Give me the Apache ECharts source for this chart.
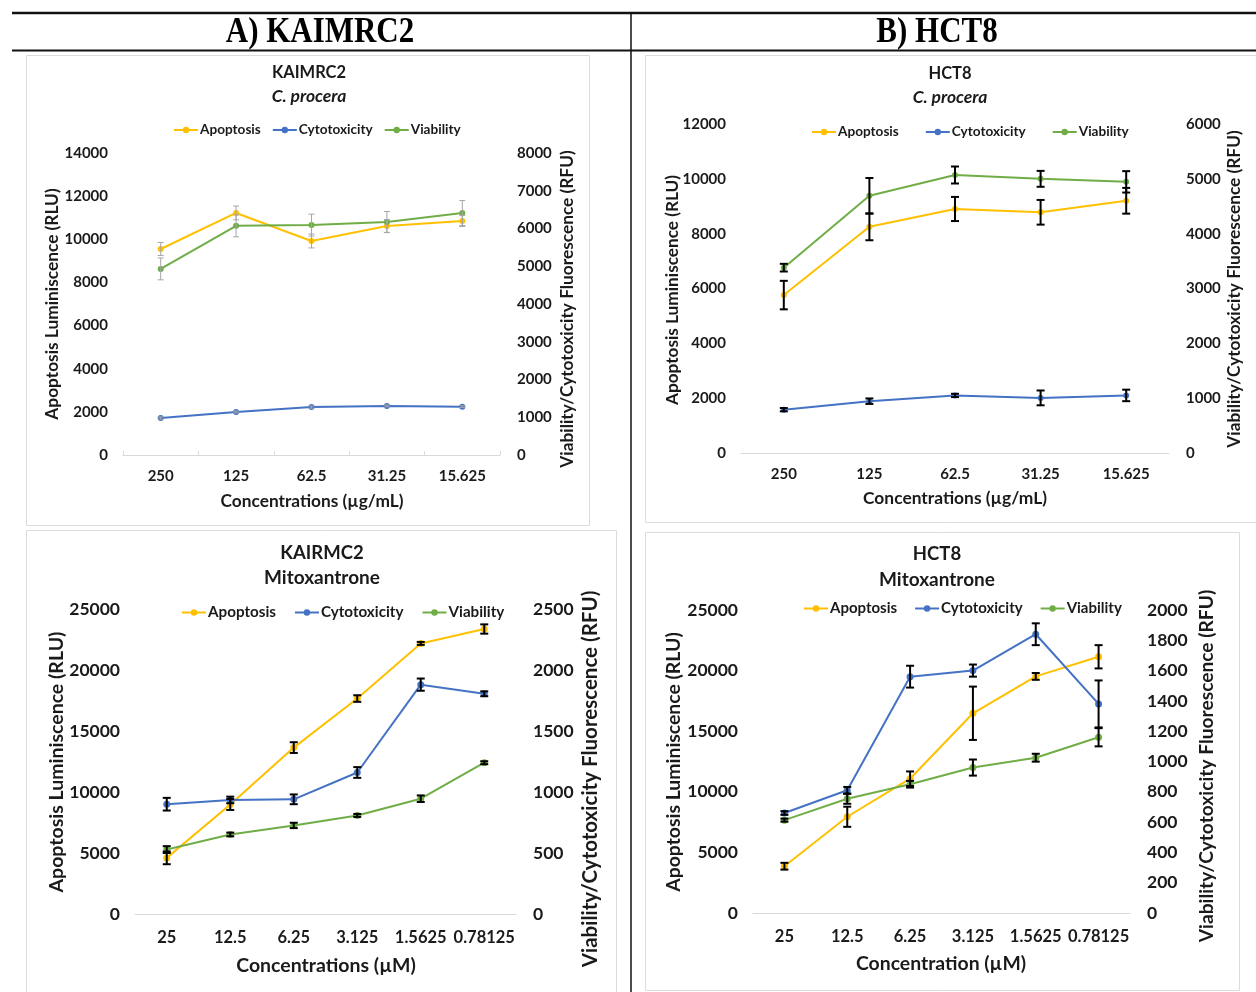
<!DOCTYPE html>
<html>
<head>
<meta charset="utf-8">
<script src="https://cdn.jsdelivr.net/npm/echarts@6/dist/echarts.min.js"></script>
<style>
html,body{margin:0;padding:0;background:#fff;}
#c{width:1256px;height:992px;}
</style>
</head>
<body>
<div id="c"></div>
<script>
// ---------- data ----------
const catsCP = ['250', '125', '62.5', '31.25', '15.625'];
const catsMX = ['25', '12.5', '6.25', '3.125', '1.5625', '0.78125'];
const seriesNames = ['Apoptosis', 'Cytotoxicity', 'Viability'];

// KAIMRC2 - C. procera
const kcpApop = [9550, 11220, 9920, 10620, 10850];
const kcpApopErr = [300, 320, 320, 300, 260];
const kcpCyto = [980, 1140, 1270, 1300, 1280];
const kcpCytoErr = [30, 25, 30, 25, 25];
const kcpVia = [4930, 6070, 6090, 6170, 6410];
const kcpViaErr = [290, 290, 290, 280, 330];

// HCT8 - C. procera
const hcpApop = [5760, 8250, 8900, 8780, 9200];
const hcpApopErr = [520, 490, 440, 450, 470];
const hcpCyto = [790, 945, 1050, 1005, 1050];
const hcpCytoErr = [30, 50, 30, 135, 105];
const hcpVia = [3380, 4690, 5070, 5000, 4945];
const hcpViaErr = [70, 325, 155, 145, 195];

// KAIRMC2 - Mitoxantrone
const kmxApop = [4600, 8980, 13640, 17660, 22180, 23360];
const kmxApopErr = [520, 450, 440, 270, 120, 380];
const kmxCyto = [900, 935, 940, 1160, 1880, 1805];
const kmxCytoErr = [52, 27, 40, 44, 50, 20];
const kmxVia = [528, 652, 726, 808, 945, 1240];
const kmxViaErr = [28, 15, 22, 12, 27, 12];

// HCT8 - Mitoxantrone
const hmxApop = [3860, 7940, 11080, 16480, 19520, 21140];
const hmxApopErr = [280, 830, 600, 2200, 280, 960];
const hmxCyto = [660, 810, 1560, 1600, 1840, 1380];
const hmxCytoErr = [12, 22, 72, 40, 72, 155];
const hmxVia = [613, 754, 850, 960, 1025, 1160];
const hmxViaErr = [10, 33, 22, 53, 26, 60];

// ---------- layout / style ----------
const FONT = 'Lato, "Open Sans", sans-serif';
const TXT = '#1a1a1a';
const COLORS = {Apoptosis: '#FFC000', Cytotoxicity: '#4472C4', Viability: '#70AD47'};

const panels = [
  { cats: catsCP, apop: kcpApop, apopErr: kcpApopErr, cyto: kcpCyto, cytoErr: kcpCytoErr, via: kcpVia, viaErr: kcpViaErr,
    grid: {left: 123, top: 153, width: 377, height: 302},
    lMax: 14000, lInt: 2000, rMax: 8000, rInt: 1000,
    yFs: 15, xFs: 15, xMargin: 14, nameFs: 17.3, rNameFs: 17.3, xNameFs: 17.3, legFs: 13.6, titleFs: [16.5, 17.5],
    errColor: '#a6a6a6', errW: 1, cap: 3, ticks: true, sym: 6,
    legend: {left: 168, top: 118, gap: 11},
    title: ['KAIMRC2', 'C. procera'], titleX: 309, titleY: [73, 96],
    lName: [52, 304], rName: [567, 309], xName: ['Concentrations (µg/mL)', 312, 501] },
  { cats: catsCP, apop: hcpApop, apopErr: hcpApopErr, cyto: hcpCyto, cytoErr: hcpCytoErr, via: hcpVia, viaErr: hcpViaErr,
    grid: {left: 741, top: 124, width: 428, height: 329},
    lMax: 12000, lInt: 2000, rMax: 6000, rInt: 1000,
    yFs: 15, xFs: 15, xMargin: 14, nameFs: 17.2, rNameFs: 17.3, xNameFs: 17.4, legFs: 13.6, titleFs: [16.5, 17.5],
    errColor: '#000', errW: 2, cap: 4, ticks: false, sym: 6,
    legend: {left: 806, top: 120, gap: 26},
    title: ['HCT8', 'C. procera'], titleX: 950, titleY: [74, 97],
    lName: [672, 290], rName: [1234, 289], xName: ['Concentrations (µg/mL)', 955, 498] },
  { cats: catsMX, apop: kmxApop, apopErr: kmxApopErr, cyto: kmxCyto, cytoErr: kmxCytoErr, via: kmxVia, viaErr: kmxViaErr,
    grid: {left: 135, top: 609, width: 381, height: 305},
    lMax: 25000, lInt: 5000, rMax: 2500, rInt: 500,
    yFs: 17.5, xFs: 16.5, xMargin: 15, nameFs: 19.5, rNameFs: 20.5, xNameFs: 19.5, legFs: 15.2, titleFs: [18.5, 19],
    errColor: '#000', errW: 2, cap: 4, ticks: false, sym: 7,
    legend: {left: 176, top: 600, gap: 18},
    title: ['KAIRMC2', 'Mitoxantrone'], titleX: 322, titleY: [553, 578],
    lName: [57, 762], rName: [590, 779], xName: ['Concentrations (µM)', 326, 966] },
  { cats: catsMX, apop: hmxApop, apopErr: hmxApopErr, cyto: hmxCyto, cytoErr: hmxCytoErr, via: hmxVia, viaErr: hmxViaErr,
    grid: {left: 753, top: 610, width: 377, height: 303},
    lMax: 25000, lInt: 5000, rMax: 2000, rInt: 200,
    yFs: 17.5, xFs: 16.5, xMargin: 15, nameFs: 19.4, rNameFs: 19.2, xNameFs: 19.4, legFs: 15, titleFs: [18.5, 19],
    errColor: '#000', errW: 2, cap: 4, ticks: false, sym: 7,
    legend: {left: 798, top: 596, gap: 17},
    title: ['HCT8', 'Mitoxantrone'], titleX: 937, titleY: [554, 580],
    lName: [674, 762], rName: [1207, 766], xName: ['Concentration (µM)', 941, 964] }
];

function errSeries(xi, yi, vals, errs, color, lw, cap) {
  return {
    type: 'custom', xAxisIndex: xi, yAxisIndex: yi, z: 6, silent: true,
    renderItem: function (p, api) {
      const i = api.value(0), v = api.value(1), e = api.value(2);
      const t = api.coord([i, v + e]), b = api.coord([i, v - e]);
      const st = {stroke: color, lineWidth: lw};
      return {type: 'group', children: [
        {type: 'line', shape: {x1: t[0], y1: t[1], x2: b[0], y2: b[1]}, style: st},
        {type: 'line', shape: {x1: t[0] - cap, y1: t[1], x2: t[0] + cap, y2: t[1]}, style: st},
        {type: 'line', shape: {x1: b[0] - cap, y1: b[1], x2: b[0] + cap, y2: b[1]}, style: st}
      ]};
    },
    data: vals.map(function (v, i) { return [i, v, errs[i]]; })
  };
}

function textEl(text, x, y, size, opts) {
  opts = opts || {};
  return {
    type: 'text', x: x, y: y, rotation: opts.rot || 0, scaleX: opts.sx || 1, silent: true,
    style: {
      text: text, fill: opts.color || TXT,
      font: (opts.italic ? 'italic ' : '') + (opts.weight || 'bold') + ' ' + size + 'px ' + (opts.family || FONT),
      align: 'center', verticalAlign: 'middle', textAlign: 'center', textVerticalAlign: 'middle'
    }
  };
}

const plain = function (v) { return String(v); };
const grids = [], xAxes = [], yAxes = [], series = [], legends = [];
const graphics = [];

// header
graphics.push({type: 'line', shape: {x1: 12, y1: 13, x2: 1256, y2: 13}, style: {stroke: '#111', lineWidth: 2.5}, silent: true});
graphics.push({type: 'line', shape: {x1: 12, y1: 50.5, x2: 1256, y2: 50.5}, style: {stroke: '#111', lineWidth: 2}, silent: true});
graphics.push({type: 'line', shape: {x1: 631, y1: 13, x2: 631, y2: 992}, style: {stroke: '#111', lineWidth: 1.5}, silent: true});
graphics.push(textEl('A) KAIMRC2', 320, 33, 36, {family: '"Liberation Serif", "Times New Roman", serif', sx: 0.86, color: '#000'}));
graphics.push(textEl('B) HCT8', 937, 33, 36, {family: '"Liberation Serif", "Times New Roman", serif', sx: 0.86, color: '#000'}));

// panel borders
[[26.5, 55.5, 563, 470], [645.5, 55.5, 620, 467], [26.5, 530.5, 590, 470], [645.5, 532.5, 594, 458]].forEach(function (r) {
  graphics.push({type: 'rect', shape: {x: r[0], y: r[1], width: r[2], height: r[3]}, style: {fill: 'none', stroke: '#dcdcdc', lineWidth: 1}, silent: true, z: -1});
});

panels.forEach(function (p, k) {
  grids.push(Object.assign({containLabel: false}, p.grid));
  xAxes.push({
    type: 'category', gridIndex: k, data: p.cats, boundaryGap: true,
    axisLine: {show: true, lineStyle: {color: '#d9d9d9', width: 1}},
    axisTick: {show: p.ticks, length: 4, inside: true, lineStyle: {color: '#d9d9d9'}},
    axisLabel: {interval: 0, margin: p.xMargin, color: TXT, fontFamily: FONT, fontWeight: 'bold', fontSize: p.xFs},
    splitLine: {show: false}
  });
  const yCommon = {
    type: 'value', gridIndex: k, min: 0,
    axisLine: {show: false}, axisTick: {show: false}, splitLine: {show: false}
  };
  yAxes.push(Object.assign({}, yCommon, {position: 'left', max: p.lMax, interval: p.lInt,
    axisLabel: {margin: 15, formatter: plain, color: TXT, fontFamily: FONT, fontWeight: 'bold', fontSize: p.yFs}}));
  yAxes.push(Object.assign({}, yCommon, {position: 'right', max: p.rMax, interval: p.rInt,
    axisLabel: {margin: 17, formatter: plain, color: TXT, fontFamily: FONT, fontWeight: 'bold', fontSize: p.yFs}}));

  const yl = 2 * k, yr = 2 * k + 1;
  const lines = [
    ['Apoptosis', p.apop, yl],
    ['Cytotoxicity', p.cyto, yr],
    ['Viability', p.via, yr]
  ];
  lines.forEach(function (l) {
    series.push({
      type: 'line', name: l[0], xAxisIndex: k, yAxisIndex: l[2], data: l[1],
      symbol: 'circle', symbolSize: p.sym, z: 3,
      lineStyle: {width: 2, color: COLORS[l[0]]}, itemStyle: {color: COLORS[l[0]]},
      emphasis: {disabled: true}, animation: false
    });
  });
  series.push(errSeries(k, yl, p.apop, p.apopErr, p.errColor, p.errW, p.cap));
  series.push(errSeries(k, yr, p.cyto, p.cytoErr, p.errColor, p.errW, p.cap));
  series.push(errSeries(k, yr, p.via, p.viaErr, p.errColor, p.errW, p.cap));

  legends.push({
    left: p.legend.left, top: p.legend.top, orient: 'horizontal',
    data: seriesNames, itemWidth: 24, itemHeight: 8, itemGap: p.legend.gap,
    selectedMode: false,
    textStyle: {fontFamily: FONT, fontWeight: 'bold', fontSize: p.legFs, color: TXT, padding: [0, 0, 0, -3]}
  });

  graphics.push(textEl(p.title[0], p.titleX, p.titleY[0], p.titleFs[0]));
  graphics.push(textEl(p.title[1], p.titleX, p.titleY[1], p.titleFs[1], {italic: k < 2}));
  graphics.push(textEl('Apoptosis Luminiscence (RLU)', p.lName[0], p.lName[1], p.nameFs, {rot: Math.PI / 2}));
  graphics.push(textEl('Viability/Cytotoxicity Fluorescence (RFU)', p.rName[0], p.rName[1], p.rNameFs, {rot: Math.PI / 2}));
  graphics.push(textEl(p.xName[0], p.xName[1], p.xName[2], p.xNameFs));
});

const chart = echarts.init(document.getElementById('c'), null, {renderer: 'canvas'});
chart.setOption({
  backgroundColor: '#fff',
  animation: false,
  grid: grids,
  xAxis: xAxes,
  yAxis: yAxes,
  legend: legends,
  series: series,
  graphic: {elements: graphics}
});
</script>
</body>
</html>
